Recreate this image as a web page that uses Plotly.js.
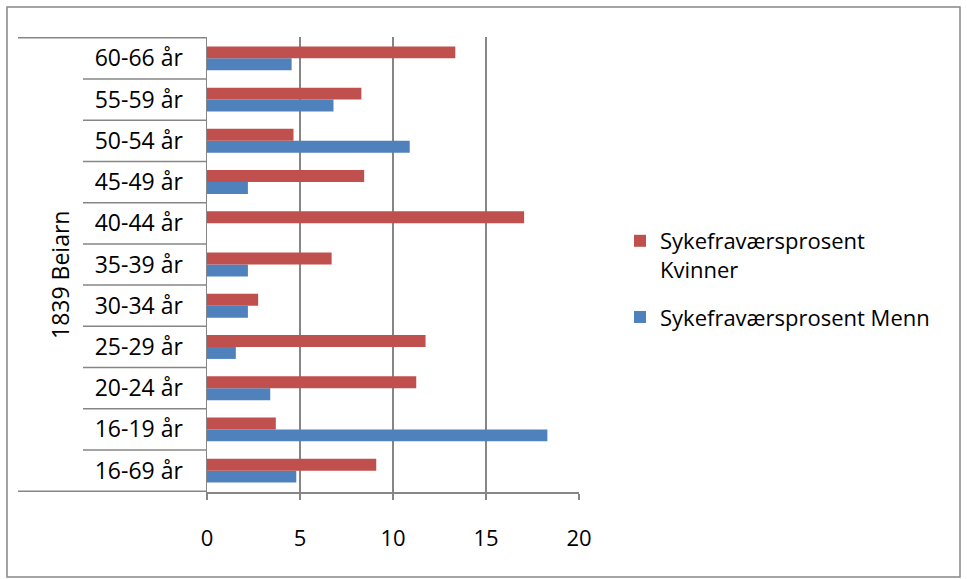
<!DOCTYPE html>
<html>
<head>
<meta charset="utf-8">
<script src="https://cdn.plot.ly/plotly-3.0.1.min.js"></script>
<style>html,body{margin:0;padding:0;background:#fff;}#chart{width:967px;height:579px;}</style>
</head>
<body>
<div id="chart"></div>
<script>
const categories = ["16-69 år","16-19 år","20-24 år","25-29 år","30-34 år","35-39 år","40-44 år","45-49 år","50-54 år","55-59 år","60-66 år"];
const groupLabel = "1839 Beiarn";
const menn =    [4.8, 18.3, 3.4, 1.55, 2.2, 2.2, 0, 2.2, 10.9, 6.8, 4.55];
const kvinner = [9.1, 3.7, 11.25, 11.75, 2.75, 6.7, 17.05, 8.45, 4.65, 8.3, 13.35];
const xTicks = [0, 5, 10, 15, 20];
const nameMenn = "Sykefraværsprosent Menn";
const nameKvinner = "Sykefraværsprosent<br>Kvinner";

const W = 967, H = 579;
const M = {l: 207, r: 388, t: 37, b: 87};
const pw = W - M.l - M.r, ph = H - M.t - M.b;
const px = v => (v - M.l) / pw;
const py = v => (H - M.b - v) / ph;
const font = "Open Sans, Lato, sans-serif";
const grey = "#868686";
const fs = 22;

const traces = [
  {type: "bar", orientation: "h", name: nameMenn, legendgroup: "m", legendrank: 2, y: categories, x: menn,
   marker: {color: "#4F81BD"}, hoverinfo: "x"},
  {type: "bar", orientation: "h", name: nameKvinner, legendgroup: "k", legendrank: 1, y: categories, x: kvinner,
   marker: {color: "#C0504D"}, hoverinfo: "x"}
];

const shapes = [];
// outer chart border
shapes.push({type: "rect", xref: "paper", yref: "paper", x0: px(7), x1: px(960), y0: py(577), y1: py(7),
  line: {color: grey, width: 1.5}, layer: "below"});
// category dividers
for (let i = 0; i <= categories.length; i++) {
  const edge = (i === 0 || i === categories.length);
  shapes.push({type: "line", xref: "paper", yref: "y", x0: px(edge ? 18 : 83), x1: 0,
    y0: i - 0.5, y1: i - 0.5, line: {color: grey, width: 1.5}});
}

const layout = {
  width: W, height: H,
  margin: M,
  paper_bgcolor: "#fff", plot_bgcolor: "#fff",
  barmode: "group", bargap: 0.42, bargroupgap: 0,
  font: {family: font, size: fs, color: "#000"},
  showlegend: true,
  legend: {x: px(620), y: py(220), xanchor: "left", yanchor: "top", traceorder: "grouped",
    valign: "top", font: {family: font, size: fs, color: "#000"}, tracegroupgap: 16, itemwidth: 30},
  xaxis: {range: [0, 20], tickvals: xTicks, ticktext: xTicks.map(String), showgrid: true,
    gridcolor: grey, gridwidth: 1.5, zeroline: false, showline: true, linecolor: grey, linewidth: 1.5,
    ticks: "outside", ticklen: 6, tickcolor: grey, tickwidth: 1.5, ticklabelstandoff: 20,
    tickfont: {family: font, size: fs}, fixedrange: true},
  yaxis: {type: "category", categoryarray: categories, showgrid: false, zeroline: false,
    showline: true, linecolor: grey, linewidth: 1.5, ticks: "", ticklabelstandoff: 18,
    tickfont: {family: font, size: 23}, fixedrange: true},
  shapes: shapes,
  annotations: [{text: groupLabel, xref: "paper", yref: "paper", x: px(42), y: py(275),
    showarrow: false, textangle: -90, font: {family: font, size: 23, color: "#000"}}]
};

Plotly.newPlot("chart", traces, layout, {displayModeBar: false, staticPlot: true});
</script>
</body>
</html>
